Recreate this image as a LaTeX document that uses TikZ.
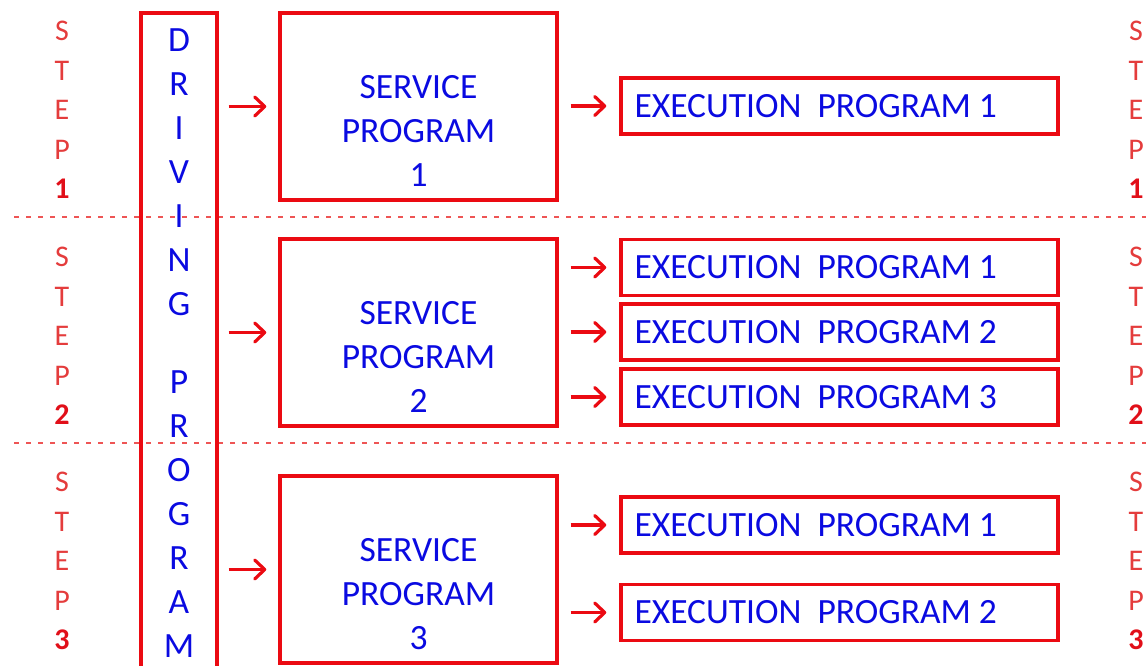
\documentclass[tikz,border=0pt]{standalone}
\usepackage{fontspec}
\setmainfont{Carlito}
\usetikzlibrary{arrows.meta}
\definecolor{boxred}{RGB}{235,10,18}
\definecolor{txtblue}{RGB}{10,10,225}
\definecolor{steplt}{RGB}{228,60,60}
\definecolor{stepnum}{RGB}{225,15,25}
\definecolor{dashred}{RGB}{238,85,85}
\begin{document}
\begin{tikzpicture}[x=1pt,y=-1pt,
  svc/.style={draw=boxred,line width=3.4pt,inner sep=0pt,minimum width=277pt,minimum height=187pt},
  exe/.style={draw=boxred,line width=3.4pt,inner sep=0pt,minimum width=437pt,minimum height=56pt},
  drvbox/.style={draw=boxred,line width=3.2pt,inner sep=0pt,minimum width=76pt,minimum height=687pt},
  bluetxt/.style={text=txtblue,inner sep=0pt,align=center,font=\fontsize{35.5}{44}\selectfont},
  steptxt/.style={text=steplt,inner sep=0pt,align=center,font=\fontsize{30}{39.5}\selectfont},
  arr/.style={draw=boxred,line width=3.2pt,-{Straight Barb[length=10pt,width=19pt,line cap=round,line join=round]}},
  sep/.style={draw=dashred,line width=1.1pt,dash pattern=on 5pt off 7pt}]
\useasboundingbox (0,0) rectangle (1146,665);
% separators
\coordinate (dl1) at (14,217); \coordinate (dr1) at (1146,217);
\coordinate (dl2) at (14,443); \coordinate (dr2) at (1146,443);
\draw[sep] (dl1) -- (dr1);
\draw[sep] (dl2) -- (dr2);
% step labels
\node[steptxt] (l1) at (62,110) {S\\T\\E\\P\\\textcolor{stepnum}{\textbf{1}}};
\node[steptxt] (l2) at (62,336) {S\\T\\E\\P\\\textcolor{stepnum}{\textbf{2}}};
\node[steptxt] (l3) at (62,561) {S\\T\\E\\P\\\textcolor{stepnum}{\textbf{3}}};
\node[steptxt] (r1) at (1136,110) {S\\T\\E\\P\\\textcolor{stepnum}{\textbf{1}}};
\node[steptxt] (r2) at (1136,336) {S\\T\\E\\P\\\textcolor{stepnum}{\textbf{2}}};
\node[steptxt] (r3) at (1136,561) {S\\T\\E\\P\\\textcolor{stepnum}{\textbf{3}}};
% driving program
\node[drvbox] (drv) at (179,356.5) {};
\node[bluetxt] (drvt) at (179,343.5) {D\\R\\I\\V\\I\\N\\G\\[34pt]P\\R\\O\\G\\R\\A\\M};
% service programs
\node[svc] (s1) at (418.5,106.5) {};
\node[svc] (s2) at (418.5,332.5) {};
\node[svc] (s3) at (418.5,569.5) {};
\node[bluetxt] (s1t) at (418.5,131) {SERVICE\\PROGRAM\\1};
\node[bluetxt] (s2t) at (418.5,357) {SERVICE\\PROGRAM\\2};
\node[bluetxt] (s3t) at (418.5,594) {SERVICE\\PROGRAM\\3};
% execution programs
\node[exe] (e11) at (839.5,106) {};
\node[exe] (e21) at (839.5,267.5) {};
\node[exe] (e22) at (839.5,332) {};
\node[exe] (e23) at (839.5,397) {};
\node[exe] (e31) at (839.5,525) {};
\node[exe] (e32) at (839.5,612.5) {};
\node[bluetxt,anchor=west] (e11t) at ([xshift=15pt]e11.west) {EXECUTION~~PROGRAM 1};
\node[bluetxt,anchor=west] (e21t) at ([xshift=15pt]e21.west) {EXECUTION~~PROGRAM 1};
\node[bluetxt,anchor=west] (e22t) at ([xshift=15pt]e22.west) {EXECUTION~~PROGRAM 2};
\node[bluetxt,anchor=west] (e23t) at ([xshift=15pt]e23.west) {EXECUTION~~PROGRAM 3};
\node[bluetxt,anchor=west] (e31t) at ([xshift=15pt]e31.west) {EXECUTION~~PROGRAM 1};
\node[bluetxt,anchor=west] (e32t) at ([xshift=15pt]e32.west) {EXECUTION~~PROGRAM 2};
% arrows driving -> service
\foreach \s in {s1,s2,s3}
  \draw[arr,shorten <=10pt,shorten >=12pt] (drv.east |- \s.west) -- (\s.west);
% arrows service -> execution
\draw[arr,shorten <=12pt,shorten >=13pt] (s1.east |- e11.west) -- (e11.west);
\foreach \e in {e21,e22,e23}
  \draw[arr,shorten <=12pt,shorten >=13pt] (s2.east |- \e.west) -- (\e.west);
\foreach \e in {e31,e32}
  \draw[arr,shorten <=12pt,shorten >=13pt] (s3.east |- \e.west) -- (\e.west);
\end{tikzpicture}
\end{document}
